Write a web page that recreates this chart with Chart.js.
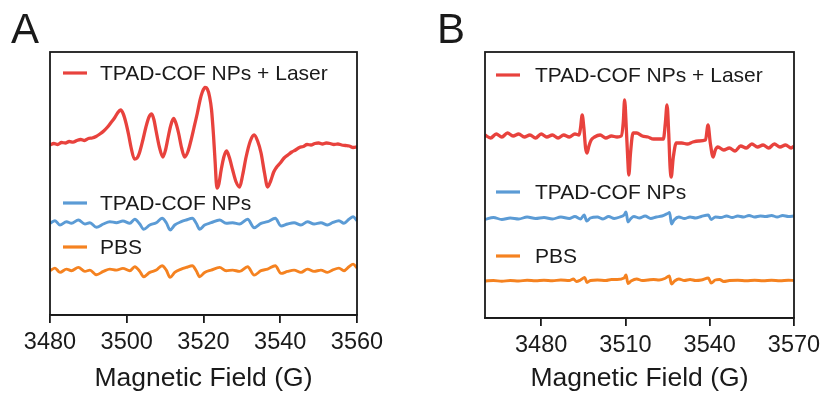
<!DOCTYPE html>
<html><head><meta charset="utf-8">
<script src="https://cdn.jsdelivr.net/npm/chart.js@4.4.1/dist/chart.umd.min.js"></script>
<style>
body{margin:0;background:#fff;width:826px;height:398px;position:relative;overflow:hidden;font-family:"Liberation Sans",Arial,sans-serif}
.panel{position:absolute;top:0;width:413px;height:398px}
.lab{position:absolute;font-size:42px;color:#1a1a1a;line-height:1;font-family:"Liberation Sans",Arial,sans-serif}
</style></head><body>
<div class="panel" style="left:0"><canvas id="cA" width="413" height="398"></canvas></div>
<div class="panel" style="left:413px"><canvas id="cB" width="413" height="398"></canvas></div>
<div class="lab" style="left:11px;top:8px">A</div>
<div class="lab" style="left:437px;top:8px">B</div>
<script>
// ---------- Data (arbitrary intensity units) ----------
const seriesLabels = ["TPAD-COF NPs + Laser", "TPAD-COF NPs", "PBS"];
const ticksA = [3480, 3500, 3520, 3540, 3560];
const ticksB = [3480, 3510, 3540, 3570];

// Panel A
const redA_field = [3480,3481,3482,3483,3484,3485,3486,3487,3488,3489,3490,3491,3492,3493,3494,3495,3496,3496.8,3497.6,3498.4,3499.1,3499.8,3500.5,3501.1,3502,3502.7,3503.3,3504.2,3505,3505.8,3506.5,3507.1,3507.6,3508.5,3509.4,3510.1,3510.8,3511.5,3512.2,3512.8,3513.5,3514.3,3515.1,3515.9,3516.7,3517.5,3518.4,3519.1,3519.7,3520.4,3521,3521.6,3522.1,3522.6,3523,3523.5,3524,3524.6,3525.3,3526,3526.7,3527.6,3528.5,3529.4,3530.2,3531.1,3532.2,3533.2,3534.1,3535,3535.9,3536.7,3537.5,3538.3,3538.9,3540,3541,3542,3543,3544,3545,3546,3547,3548,3549,3550,3551,3552,3553,3554,3555,3556,3557,3558,3559,3560];
const redA_signal = [170,171.5,170.5,172.5,172,173.5,172.8,174.5,175.5,174.5,176.5,177,178.5,181,184,188,193,197,202,205,201,192,180,168,156,157,162,175,188,198,201,195,185,168,158,165,178,190,196.5,192,182,167,158,163,174,187,202,215,223,227.5,226,218,205,180,155,127,131,145,158,164,158,145,133,128,140,158,174,180,174,162,142,128,134,143,147,152,157,160,163,165,167.5,168.5,170.5,170,171.5,172,171,172,171.5,170.5,171,170,169.5,169,167.5,168];

const blueA_field = [3480,3481.3,3482.6,3484.3,3485.6,3487.4,3489.1,3490.4,3492.1,3493.9,3495.6,3497.3,3499,3500.8,3502.1,3503.4,3504.4,3506,3507.7,3509.2,3510.3,3511.3,3512.5,3514.2,3515.5,3517.1,3518.1,3519,3520.3,3522,3524.2,3525.9,3527.6,3529.4,3531.5,3533.2,3535,3536.7,3538.7,3540.2,3541.9,3543.6,3545.4,3547.1,3548.8,3550.6,3552.3,3553.6,3555.3,3556.6,3557.9,3559,3560];
const blueA_signal = [91.7,94.3,90,93.3,91.7,95,91,92.3,87.7,91,93.3,92.3,94,91.7,95.7,91,85.7,90,92.3,96.7,92.3,85,90,93.3,95,96.7,91.7,85.7,90,92.3,95,91.7,92.3,91,95.7,87.3,91.7,93.3,96.7,89,91,92.3,90,93.3,91,92.3,90,92.3,94.3,91.7,95.7,98.3,94.3];

const orangeA_field = [3480,3481.3,3482.6,3484.3,3485.6,3487.4,3489.1,3490.4,3492.1,3493.9,3495.6,3497.3,3499,3500.8,3502.1,3503.4,3504.4,3506,3507.7,3509.2,3510.3,3511.3,3512.5,3514.2,3515.5,3517.1,3518.1,3519,3520.3,3522,3524.2,3525.9,3527.6,3529.4,3531.5,3533.2,3535,3536.7,3538.7,3540.2,3541.9,3543.6,3545.4,3547.1,3548.8,3550.6,3552.3,3553.6,3555.3,3556.6,3557.9,3559,3560];
const orangeA_signal = [44.3,46.9,42.6,45.9,44.3,47.6,43.6,44.9,40.3,43.6,45.9,44.9,46.6,44.3,48.3,43.6,38.3,42.6,44.9,49.3,44.9,37.6,42.6,45.9,47.6,49.3,44.3,38.3,42.6,44.9,47.6,44.3,44.9,43.6,48.3,39.9,44.3,45.9,49.3,41.6,43.6,44.9,42.6,45.9,43.6,44.9,42.6,44.9,46.9,44.3,48.3,50.9,46.9];

// Panel B
const redB_field = [3460,3462,3464,3466,3468,3470,3472,3474,3476,3478,3480,3482,3484,3486,3488,3490,3492,3493.5,3494,3494.6,3495.2,3495.8,3496.3,3497,3497.8,3499,3501,3503,3505,3507,3508.5,3509.2,3509.7,3510.3,3510.8,3511.2,3511.8,3512.7,3514,3516,3518,3520,3522,3523.5,3524.2,3524.8,3525.4,3525.9,3526.3,3527,3528.1,3530,3532,3534,3536,3538.5,3539.4,3540.2,3541.2,3542,3542.9,3545,3547,3549,3551,3553,3555,3557,3559,3561,3563,3565,3567,3569,3570];
const redB_signal = [183,180,184,181,185,182,184,181,183,180,184,181,183,180,183,181,184,183,190,203,190,170,165,172,178,181,183,180,182,181,182,195,218,190,160,143,165,185,185,182,181,179,179,179,195,213,185,150,141,160,175,175,174,176,177,178,193,175,161,168,171,168,170,167,172,170,174,171,173,170,174,171,173,170,172];

const blueB_field = [3460,3463,3466,3469,3472,3475,3478,3481,3484,3487,3490,3492,3494,3495.3,3496.2,3497.5,3500,3502,3504,3506,3508,3509.5,3510.2,3510.9,3511.8,3513,3515,3517,3519,3521,3523,3525,3525.7,3526.4,3527.3,3529,3531,3533,3535,3537,3539.5,3540.5,3542,3544,3546,3548,3550,3552,3554,3556,3558,3560,3562,3564,3566,3568,3570];
const blueB_signal = [98.7,100.5,98.5,100,99,101,99.5,100.5,99,101,99.5,101.5,99,103,97,100,101,99,101.5,99.5,101,103,106,96,99,101.5,100,102,99.5,101,102,104.5,105.5,94,98,101,99.5,101,100,101.5,103,98.5,101,100.5,102,100.5,102,101,102.5,101,102,101.5,102.5,101,102.5,101.5,102];

const orangeB_field = [3460,3463,3466,3469,3472,3475,3478,3481,3484,3487,3490,3491.5,3492.5,3494,3495.5,3496.3,3497.5,3500,3503,3505,3507,3509.5,3510.2,3510.9,3512,3514,3516,3518,3520,3522,3524,3525.6,3526.4,3527.5,3529,3531,3533,3535,3537,3539.5,3540.5,3542,3543.5,3545,3547,3550,3553,3556,3559,3562,3565,3568,3570];
const orangeB_signal = [37,37.5,36.8,37.5,37,37.8,37.2,37.8,37.2,38,37.5,39,36.5,38,40.5,35.5,37.5,38,37.5,38.5,38.5,40,43,34.5,37,39,37.5,38,38.5,38,39.5,42,34,37,39,37.5,38.5,37.5,38,40,35,38,38.5,36.5,37.5,37.8,37.2,37.8,37.2,37.8,37.3,37.8,37.5];

// ---------- Styles ----------
const COLORS = ["#E8423D", "#5B9BD5", "#F58220"];
const INK = "#1a1a1a";
const FONT = '"Liberation Sans", Arial, Helvetica, sans-serif';

function pts(xs, ys){ return xs.map((x,i)=>({x:x, y:ys[i]})); }

const framePlugin = {
  id: 'frame',
  afterDraw(chart){
    const {ctx, chartArea:a} = chart;
    ctx.save();
    ctx.strokeStyle = INK; ctx.lineWidth = 1.8;
    ctx.strokeRect(a.left, a.top, a.right - a.left, a.bottom - a.top);
    ctx.restore();
  }
};
const inlineLegend = {
  id: 'inlineLegend',
  afterDatasetsDraw(chart, args, opts){
    const ctx = chart.ctx;
    (opts.items || []).forEach((it, i) => {
      const ds = chart.data.datasets[i];
      ctx.save();
      ctx.strokeStyle = ds.borderColor; ctx.lineWidth = 3.2; ctx.lineCap = 'butt';
      ctx.beginPath(); ctx.moveTo(it.x, it.y); ctx.lineTo(it.x + opts.sampleLen, it.y); ctx.stroke();
      ctx.fillStyle = INK; ctx.font = opts.fontSize + 'px ' + FONT; ctx.textBaseline = 'middle';
      ctx.fillText(ds.label, it.x + opts.textGap, it.y + 1);
      ctx.restore();
    });
  }
};

function makeChart(id, datasets, xmin, xmax, tickVals, ymax, pad, axisH, legendItems, textGap){
  return new Chart(document.getElementById(id), {
    type: 'line',
    data: { datasets: datasets.map((d, i) => ({
      label: seriesLabels[i], data: d, borderColor: COLORS[i], backgroundColor: COLORS[i],
      borderWidth: i === 0 ? 3.3 : 2.9, pointRadius: 0, fill: false,
      cubicInterpolationMode: 'monotone'
    })) },
    options: {
      responsive: false, animation: false, devicePixelRatio: 1,
      layout: { padding: pad },
      plugins: {
        legend: { display: false }, tooltip: { enabled: false },
        inlineLegend: { items: legendItems, sampleLen: 24, textGap: textGap, fontSize: 21 }
      },
      scales: {
        x: {
          type: 'linear', min: xmin, max: xmax,
          afterBuildTicks: s => { s.ticks = tickVals.map(v => ({value: v})); },
          afterFit: s => { s.height = axisH; },
          grid: { drawOnChartArea: false, drawTicks: true, tickLength: 8, color: INK, lineWidth: 1.8 },
          border: { display: true, color: INK, width: 1.8 },
          ticks: { autoSkip: false, maxRotation: 0, padding: 5, color: INK,
                   font: { size: 23.5, family: FONT }, callback: v => String(v) },
          title: { display: true, text: 'Magnetic Field (G)', color: INK,
                   font: { size: 26.5, family: FONT }, padding: { top: 0, bottom: 3 } }
        },
        y: { display: false, min: 0, max: ymax }
      }
    },
    plugins: [framePlugin, inlineLegend]
  });
}

makeChart('cA',
  [pts(redA_field, redA_signal), pts(blueA_field, blueA_signal), pts(orangeA_field, orangeA_signal)],
  3480, 3560, ticksA, 263, {left: 50, right: 56, top: 52, bottom: 0}, 83,
  [{x: 63, y: 73}, {x: 63, y: 203}, {x: 63, y: 247}], 37);

makeChart('cB',
  [pts(redB_field, redB_signal), pts(blueB_field, blueB_signal), pts(orangeB_field, orangeB_signal)],
  3460, 3570, ticksB, 266, {left: 72, right: 32, top: 52, bottom: 0}, 80,
  [{x: 83, y: 75}, {x: 83, y: 192}, {x: 83, y: 256}], 39);
</script>
</body></html>
